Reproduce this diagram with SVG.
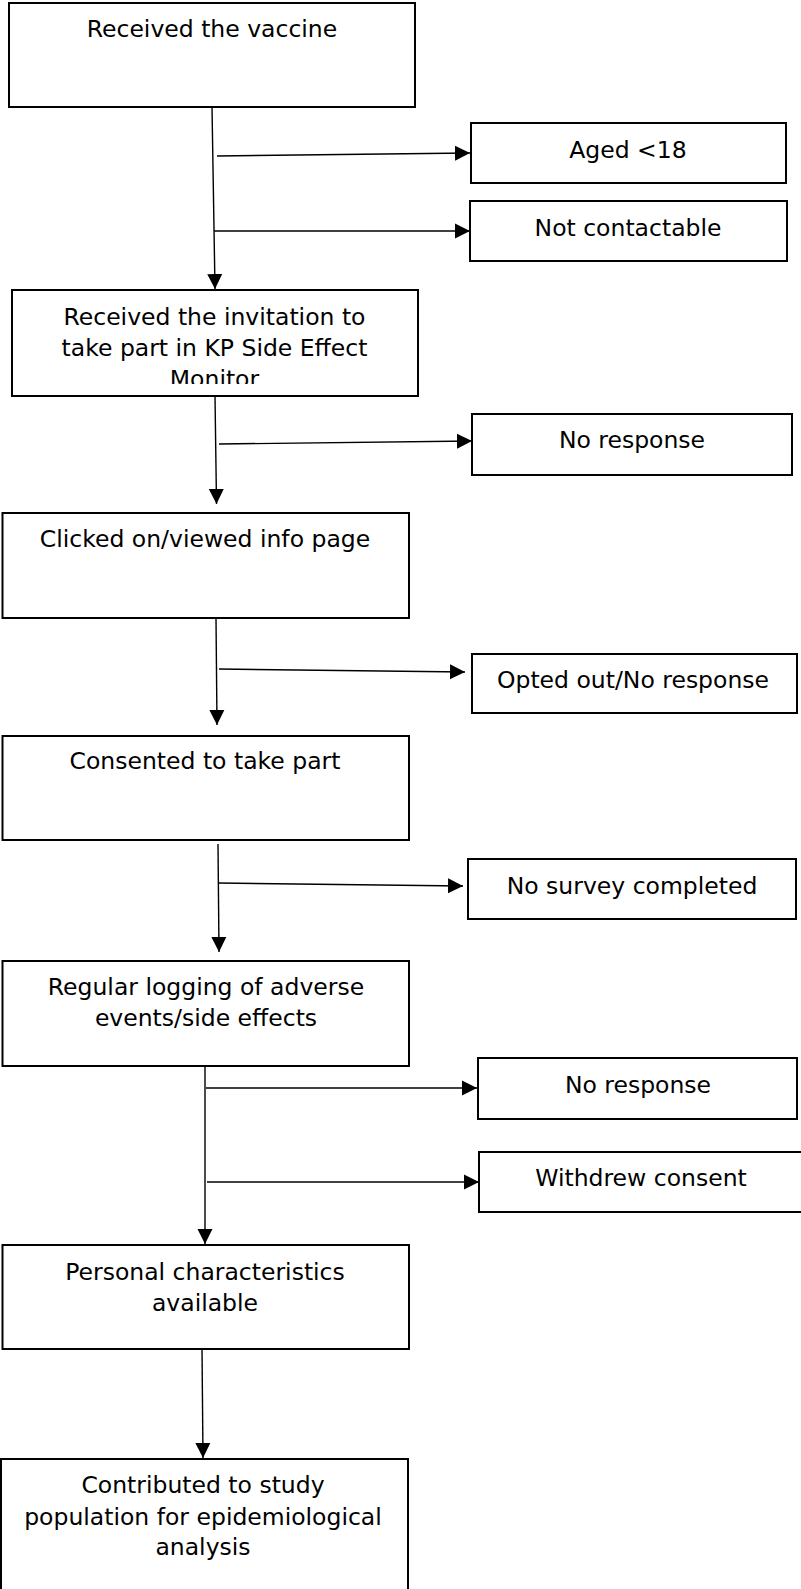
<svg xmlns="http://www.w3.org/2000/svg" width="801" height="1589" viewBox="0 0 801 1589">
<style>
rect.box{fill:#fff;stroke:#000;stroke-width:2}
text{font-family:"DejaVu Sans",Verdana,sans-serif;font-size:23.5px;fill:#000;text-anchor:middle}
#connectors line{stroke:#000;stroke-width:1.4;fill:none}
#connectors line.arr{marker-end:url(#ah)}
</style>
<defs>
<marker id="ah" markerUnits="userSpaceOnUse" markerWidth="16" markerHeight="16" refX="15" refY="8" orient="auto" viewBox="0 0 16 16">
<path d="M0,0.5 L15,8 L0,15.5 z" fill="#000"/>
</marker>
<clipPath id="clip2"><rect x="13" y="291" width="404" height="93"/></clipPath>
</defs>
<rect width="801" height="1589" fill="#fff"/>

<g id="connectors">
<line class="arr" x1="212" y1="107" x2="215" y2="289"/>
<line class="arr" x1="217" y1="156" x2="470" y2="153"/>
<line class="arr" x1="214" y1="231" x2="470" y2="231"/>
<line class="arr" x1="215" y1="396" x2="216.5" y2="504"/>
<line class="arr" x1="219" y1="444" x2="472" y2="441"/>
<line class="arr" x1="216" y1="618" x2="217" y2="725"/>
<line class="arr" x1="219" y1="669" x2="465" y2="672"/>
<line class="arr" x1="218" y1="844" x2="219" y2="952"/>
<line class="arr" x1="218" y1="883" x2="463" y2="886"/>
<line class="arr" x1="205" y1="1066" x2="205" y2="1244"/>
<line class="arr" x1="206" y1="1088" x2="477" y2="1088"/>
<line class="arr" x1="207" y1="1182" x2="479" y2="1182"/>
<line class="arr" x1="202" y1="1349" x2="203" y2="1458"/>
</g>

<g id="n1"><rect class="box" x="9" y="3" width="406" height="104"/><text x="212" y="37">Received the vaccine</text></g>
<g id="n2"><rect class="box" x="12" y="290" width="406" height="106"/>
<g clip-path="url(#clip2)"><text x="214.5" y="325">Received the invitation to</text><text x="214.5" y="356">take part in KP Side Effect</text><text x="214.5" y="387">Monitor</text></g></g>
<g id="n3"><rect class="box" x="2.5" y="513" width="406.5" height="105"/><text x="205" y="547">Clicked on/viewed info page</text></g>
<g id="n4"><rect class="box" x="2.5" y="736" width="406.5" height="104"/><text x="205" y="769">Consented to take part</text></g>
<g id="n5"><rect class="box" x="2.5" y="961" width="406.5" height="105"/><text x="206" y="995">Regular logging of adverse</text><text x="206" y="1026">events/side effects</text></g>
<g id="n6"><rect class="box" x="2.5" y="1245" width="406.5" height="104"/><text x="205" y="1280">Personal characteristics</text><text x="205" y="1311">available</text></g>
<g id="n7"><rect class="box" x="1" y="1459" width="407" height="150"/><text x="203" y="1493">Contributed to study</text><text x="203" y="1525">population for epidemiological</text><text x="203" y="1555">analysis</text></g>

<g id="e1"><rect class="box" x="471" y="123" width="315" height="60"/><text x="628" y="158">Aged &lt;18</text></g>
<g id="e2"><rect class="box" x="470" y="201" width="317" height="60"/><text x="628" y="236">Not contactable</text></g>
<g id="e3"><rect class="box" x="472" y="414" width="320" height="61"/><text x="632" y="448">No response</text></g>
<g id="e4"><rect class="box" x="472" y="654" width="325" height="59"/><text x="633" y="688">Opted out/No response</text></g>
<g id="e5"><rect class="box" x="468" y="859" width="328" height="60"/><text x="632" y="894">No survey completed</text></g>
<g id="e6"><rect class="box" x="478" y="1058" width="319" height="61"/><text x="638" y="1093">No response</text></g>
<g id="e7"><rect class="box" x="479" y="1152" width="325" height="60"/><text x="641" y="1186">Withdrew consent</text></g>
</svg>
